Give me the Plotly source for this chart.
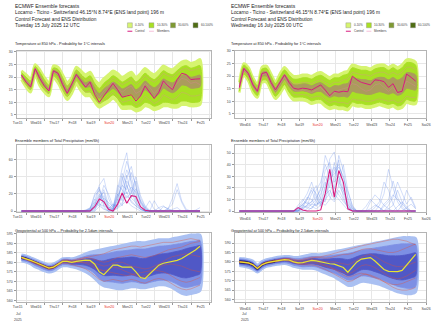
import plotly.graph_objects as go

W, H = 440, 328
FONT = "Liberation Sans, Arial, sans-serif"

# ---------------- time axis (lead time, hours, 6-hourly) ----------------
steps = list(range(0, 240, 6))  # 0 .. 234 h

days_L = ["Tue15", "Wed16", "Thu17", "Fri18", "Sat19", "Sun20", "Mon21", "Tue22", "Wed23", "Thu24", "Fri25"]
days_R = ["Wed16", "Thu17", "Fri18", "Sat19", "Sun20", "Mon21", "Tue22", "Wed23", "Thu24", "Fri25", "Sat26"]

# ---------------- Temperature 850 hPa (degC) ----------------
t_ctl_L = [20.8, 18.0, 16.0, 23.3, 19.5, 16.5, 14.5, 22.5, 21.5, 17.0,
           13.5, 17.0, 21.0, 18.5, 16.0, 18.0, 13.0, 10.0, 12.5, 15.0,
           17.5, 15.0, 12.0, 12.5, 13.0, 10.5, 12.5, 16.5, 14.0, 11.5,
           14.0, 18.5, 16.5, 15.0, 19.0, 21.5, 21.0, 19.0, 19.2, 19.3]
t_o_hi_L = [22.5, 21.0, 19.5, 25.0, 23.0, 20.0, 18.0, 24.5, 24.0, 21.0,
            18.0, 20.0, 24.0, 22.5, 21.0, 22.0, 19.0, 17.5, 19.5, 21.0,
            22.5, 21.5, 20.0, 21.0, 22.0, 20.0, 21.5, 23.5, 22.0, 21.0,
            22.5, 24.5, 23.5, 23.0, 24.5, 26.0, 26.5, 25.5, 26.0, 27.0]
t_o_lo_L = [19.0, 16.0, 14.0, 20.5, 16.5, 14.0, 12.5, 19.5, 17.5, 14.0,
            11.0, 13.5, 17.0, 14.5, 12.5, 12.5, 10.0, 8.0, 9.0, 10.0,
            11.5, 10.0, 7.5, 7.5, 7.5, 6.5, 7.0, 8.5, 8.0, 7.0,
            7.5, 8.5, 8.5, 8.0, 8.0, 9.0, 9.0, 8.5, 8.5, 9.0]
t_m_hi_L = [21.8, 20.0, 18.5, 24.2, 22.0, 19.0, 16.8, 23.6, 23.0, 19.8,
            16.5, 18.8, 22.8, 21.0, 19.5, 20.5, 17.5, 15.5, 17.5, 19.0,
            20.5, 19.5, 18.0, 19.0, 20.0, 18.0, 19.5, 21.5, 20.0, 19.0,
            20.5, 22.5, 21.5, 21.0, 22.5, 24.0, 24.5, 23.5, 24.0, 24.5]
t_m_lo_L = [19.8, 17.0, 15.0, 21.5, 17.5, 15.0, 13.5, 20.5, 18.8, 15.0,
            12.3, 14.8, 18.5, 16.0, 14.0, 14.0, 11.5, 9.5, 10.5, 11.5,
            13.0, 11.5, 9.0, 9.0, 9.0, 8.0, 8.5, 10.0, 9.5, 8.5,
            9.0, 10.0, 10.0, 9.5, 9.5, 10.5, 10.5, 10.0, 10.0, 10.5]
t_i_hi_L = [21.0, 18.9, 17.2, 23.3, 20.6, 17.7, 15.6, 22.6, 21.7, 18.3,
            15.1, 17.5, 21.3, 19.4, 17.7, 18.4, 15.6, 13.5, 15.3, 16.6,
            18.0, 16.9, 15.3, 16.1, 17.0, 15.0, 16.3, 18.4, 16.9, 15.8,
            17.1, 19.2, 18.3, 17.7, 19.0, 20.6, 20.9, 19.9, 20.3, 20.7]
t_i_lo_L = [20.5, 18.1, 16.2, 22.6, 19.1, 16.4, 14.6, 21.7, 20.4, 16.7,
            13.7, 16.3, 20.0, 17.8, 15.9, 16.2, 13.6, 11.6, 12.9, 14.1,
            15.5, 14.1, 12.3, 12.9, 13.5, 11.5, 12.6, 15.0, 13.5, 12.1,
            13.2, 15.6, 14.6, 13.8, 14.9, 16.8, 16.6, 15.6, 15.7, 16.2]
t_mem_L = [
    [21.0, 19.0, 17.2, 23.8, 21.0, 18.0, 15.8, 23.2, 22.5, 19.0, 15.5, 18.5, 22.5, 20.5, 18.5, 19.5, 16.5, 14.5, 16.0, 18.0,
     19.5, 18.5, 17.0, 18.0, 19.0, 17.0, 18.5, 20.5, 19.0, 18.0, 19.5, 21.5, 20.5, 20.0, 21.5, 23.0, 23.5, 22.5, 23.0, 23.5],
    [20.0, 17.0, 15.0, 22.0, 18.0, 15.0, 13.5, 21.0, 19.0, 15.0, 12.5, 15.0, 19.0, 16.0, 14.0, 14.5, 11.5, 9.5, 11.0, 12.5,
     14.0, 12.0, 10.0, 10.5, 11.0, 9.0, 10.0, 12.5, 11.0, 9.5, 10.5, 13.0, 12.0, 11.0, 12.0, 14.0, 13.5, 12.5, 12.5, 13.0],
    [20.5, 18.5, 16.5, 22.8, 20.0, 16.8, 14.8, 22.0, 21.0, 17.5, 14.0, 17.0, 20.5, 18.5, 16.5, 17.0, 14.5, 12.0, 14.5, 16.5,
     18.0, 15.5, 14.0, 15.5, 16.5, 13.5, 14.5, 17.5, 16.0, 13.5, 15.5, 18.0, 17.0, 15.5, 17.5, 19.5, 19.0, 17.5, 18.0, 17.0],
]

t_ctl_R = [15.5, 23.0, 21.0, 16.5, 14.0, 21.0, 21.5, 17.5, 14.5, 17.5,
           20.5, 17.5, 15.2, 14.8, 15.2, 15.0, 14.5, 15.5, 16.5, 14.5,
           12.2, 14.0, 13.6, 14.0, 13.8, 20.0, 18.5, 17.5, 17.0, 16.5,
           18.5, 18.3, 17.8, 15.5, 17.0, 13.5, 14.0, 20.8, 19.5, 18.0]
t_o_hi_R = [17.5, 25.0, 23.5, 19.5, 17.0, 23.5, 24.0, 21.0, 18.0, 21.0,
            23.5, 21.5, 20.0, 20.0, 20.5, 20.5, 20.0, 21.0, 21.5, 20.5,
            19.5, 20.5, 20.5, 21.5, 22.0, 24.5, 24.0, 23.5, 23.5, 23.0,
            24.0, 24.5, 24.5, 23.5, 24.5, 23.5, 24.5, 26.5, 26.5, 25.5]
t_o_lo_R = [13.5, 20.0, 18.0, 13.5, 11.5, 17.5, 17.5, 14.0, 11.0, 13.0,
            15.5, 12.5, 10.5, 10.5, 10.5, 10.0, 9.0, 9.5, 9.5, 8.0,
            7.0, 7.5, 7.0, 7.0, 6.5, 8.5, 8.0, 8.0, 7.5, 7.5,
            8.0, 8.5, 8.0, 7.5, 8.0, 7.0, 7.5, 9.5, 9.0, 9.0]
t_m_hi_R = [16.9, 24.3, 22.7, 18.6, 16.2, 22.7, 23.1, 20.0, 17.0, 19.9,
            22.4, 20.3, 18.8, 18.8, 19.3, 19.3, 18.8, 19.8, 20.3, 19.3,
            18.3, 19.3, 19.3, 20.3, 20.8, 23.3, 22.8, 22.3, 22.3, 21.8,
            22.8, 23.3, 23.3, 22.3, 23.3, 22.3, 23.3, 25.3, 25.3, 24.3]
t_m_lo_R = [14.1, 20.8, 18.8, 14.4, 12.3, 18.3, 18.4, 15.0, 12.0, 14.1,
            16.6, 13.7, 11.7, 11.7, 11.7, 11.2, 10.2, 10.7, 10.7, 9.2,
            8.2, 8.7, 8.2, 8.2, 7.7, 9.7, 9.2, 9.2, 8.7, 8.7,
            9.2, 9.7, 9.2, 8.7, 9.2, 8.2, 8.7, 10.7, 10.2, 10.2]
t_i_hi_R = [16.0, 23.2, 21.5, 17.3, 14.9, 21.4, 21.7, 18.4, 15.4, 18.1,
            20.6, 18.3, 16.6, 16.5, 16.9, 16.8, 16.2, 17.0, 17.4, 16.3,
            15.3, 16.2, 16.1, 16.8, 17.1, 19.5, 19.0, 18.6, 18.5, 18.1,
            19.0, 19.5, 19.4, 18.5, 19.4, 18.4, 19.3, 21.3, 21.2, 20.4]
t_i_lo_R = [15.1, 22.0, 20.2, 15.9, 13.6, 19.8, 20.0, 16.7, 13.7, 16.1,
            18.6, 16.0, 14.1, 14.0, 14.2, 13.8, 13.1, 13.8, 13.9, 12.6,
            11.6, 12.2, 11.8, 12.0, 11.7, 13.9, 13.4, 13.2, 12.8, 12.7,
            13.3, 13.8, 13.4, 12.8, 13.4, 12.4, 13.1, 15.1, 14.8, 14.5]
t_mem_R = [
    [15.8, 23.5, 21.8, 17.5, 15.0, 21.8, 22.2, 18.8, 15.8, 18.5, 21.0, 18.8, 17.0, 17.0, 17.5, 17.5, 17.0, 18.0, 18.5, 17.5,
     16.5, 17.5, 17.5, 18.5, 19.0, 21.5, 21.0, 20.5, 20.5, 20.0, 21.0, 21.5, 21.5, 20.5, 21.5, 20.5, 21.5, 23.5, 23.5, 22.5],
    [15.0, 21.8, 19.8, 15.5, 13.2, 19.2, 19.5, 16.0, 13.0, 15.5, 18.0, 15.0, 12.8, 12.5, 12.8, 12.5, 11.5, 12.0, 12.0, 10.5,
     9.5, 10.0, 9.5, 9.5, 9.0, 11.0, 10.5, 10.5, 10.0, 10.0, 10.5, 11.0, 10.5, 10.0, 10.5, 9.5, 10.0, 12.0, 11.5, 11.5],
    [15.3, 22.5, 20.5, 16.2, 14.0, 20.5, 21.0, 17.2, 14.2, 16.8, 19.5, 16.5, 14.5, 14.0, 14.5, 14.0, 13.5, 14.5, 15.5, 13.5,
     12.0, 13.5, 14.5, 15.0, 15.5, 17.0, 16.5, 15.0, 14.0, 14.5, 16.5, 17.0, 15.5, 14.0, 15.5, 13.0, 14.5, 18.0, 17.0, 16.0],
]

# ---------------- Total precipitation (mm/6h) ----------------
p_ctl_L = [0, 0, 0, 0, 0, 0, 0, 0, 0, 0, 0, 0, 0, 0, 0, 0, 5, 14, 11, 2,
           0, 8, 21, 9, 18, 17, 5, 1, 0, 0, 0, 0, 0, 0, 0, 0, 0, 0, 0, 0]
p_mem_L = [
    [0, 0, 0, 0, 0, 0, 0, 0, 0, 0, 0, 0, 0, 0, 0, 1, 8, 20, 10, 3, 5, 25, 50, 68, 30, 12, 2, 0, 0, 0, 0, 0, 0, 0, 0, 0, 0, 0, 0, 0],
    [0, 0, 0, 0, 0, 0, 0, 0, 0, 0, 0, 0, 0, 0, 0, 0, 12, 30, 38, 15, 3, 12, 35, 58, 40, 20, 8, 2, 0, 0, 0, 0, 0, 0, 0, 0, 0, 0, 0, 0],
    [0, 0, 0, 0, 0, 0, 0, 0, 0, 0, 0, 0, 0, 0, 0, 3, 18, 24, 12, 2, 0, 18, 30, 25, 45, 30, 10, 3, 12, 2, 0, 0, 0, 0, 0, 0, 0, 0, 0, 0],
    [0, 0, 0, 0, 0, 0, 0, 0, 0, 0, 0, 0, 0, 0, 0, 0, 6, 10, 25, 8, 2, 10, 15, 42, 20, 35, 15, 5, 0, 0, 0, 0, 2, 15, 32, 12, 2, 0, 0, 0],
    [0, 0, 0, 0, 0, 0, 0, 0, 0, 0, 0, 0, 0, 0, 0, 0, 0, 5, 15, 10, 5, 20, 12, 30, 15, 10, 3, 0, 0, 0, 0, 5, 3, 0, 0, 0, 0, 0, 0, 0],
    [0, 0, 0, 0, 0, 0, 0, 0, 0, 0, 0, 0, 0, 0, 0, 2, 20, 28, 5, 0, 2, 30, 25, 15, 22, 40, 18, 6, 1, 0, 0, 0, 0, 0, 0, 0, 0, 0, 1, 4],
    [0, 0, 0, 0, 0, 0, 0, 0, 0, 0, 0, 0, 0, 0, 0, 0, 3, 8, 6, 3, 8, 5, 18, 22, 10, 6, 2, 0, 0, 0, 4, 6, 2, 0, 0, 0, 0, 0, 0, 0],
    [0, 0, 0, 0, 0, 0, 0, 0, 0, 0, 0, 0, 0, 0, 0, 0, 0, 16, 22, 4, 0, 6, 40, 20, 28, 22, 12, 4, 0, 0, 0, 0, 3, 8, 25, 10, 0, 0, 0, 0],
    [0, 0, 0, 0, 0, 0, 0, 0, 0, 0, 0, 0, 0, 0, 1, 4, 10, 6, 2, 0, 0, 3, 8, 12, 6, 3, 0, 0, 0, 12, 3, 0, 0, 0, 0, 0, 0, 0, 0, 0],
    [0, 0, 0, 0, 0, 0, 0, 0, 0, 0, 0, 0, 0, 0, 0, 0, 2, 12, 18, 6, 1, 14, 6, 35, 25, 8, 4, 0, 0, 0, 0, 0, 0, 2, 4, 0, 0, 0, 0, 0],
    [0, 0, 0, 0, 0, 0, 0, 0, 0, 0, 0, 0, 0, 0, 0, 2, 6, 18, 8, 1, 3, 16, 28, 48, 35, 14, 5, 0, 0, 0, 0, 0, 0, 0, 0, 0, 0, 0, 0, 0],
    [0, 0, 0, 0, 0, 0, 0, 0, 0, 0, 0, 0, 0, 0, 0, 0, 4, 12, 30, 20, 6, 8, 22, 40, 52, 28, 10, 2, 0, 0, 0, 0, 0, 0, 0, 0, 0, 0, 0, 0],
    [0, 0, 0, 0, 0, 0, 0, 0, 0, 0, 0, 0, 0, 0, 1, 3, 14, 8, 3, 0, 0, 4, 10, 18, 12, 6, 2, 0, 0, 0, 0, 0, 0, 0, 0, 0, 0, 0, 0, 0],
    [0, 0, 0, 0, 0, 0, 0, 0, 0, 0, 0, 0, 0, 0, 0, 0, 8, 26, 14, 4, 2, 20, 44, 30, 16, 26, 12, 3, 0, 0, 0, 0, 0, 0, 0, 0, 0, 0, 0, 0],
]
p_ctl_R = [0, 0, 0, 0, 0, 0, 0, 0, 0, 0, 0, 0, 0, 3, 1, 0, 0, 0, 1, 15,
           36, 12, 35, 25, 2, 0, 0, 0, 0, 0, 0, 0, 0, 0, 0, 0, 0, 0, 0, 0]
p_mem_R = [
    [0, 0, 0, 0, 0, 0, 0, 0, 0, 0, 0, 0, 0, 2, 8, 15, 25, 12, 5, 20, 45, 51, 30, 12, 3, 0, 0, 0, 0, 0, 0, 0, 0, 0, 0, 0, 0, 0, 0, 0],
    [0, 0, 0, 0, 0, 0, 0, 0, 0, 0, 0, 0, 0, 5, 10, 6, 8, 18, 25, 40, 30, 20, 48, 35, 10, 2, 0, 0, 0, 0, 0, 5, 15, 36, 20, 8, 2, 0, 0, 0],
    [0, 0, 0, 0, 0, 0, 0, 0, 0, 0, 0, 0, 0, 0, 4, 12, 10, 4, 12, 30, 20, 42, 25, 18, 8, 2, 0, 0, 0, 8, 14, 10, 5, 2, 0, 0, 0, 0, 0, 0],
    [0, 0, 0, 0, 0, 0, 0, 0, 0, 0, 0, 0, 0, 1, 3, 5, 15, 22, 10, 8, 25, 35, 40, 28, 15, 5, 0, 0, 0, 0, 0, 0, 0, 5, 12, 25, 15, 6, 12, 3],
    [0, 0, 0, 0, 0, 0, 0, 0, 0, 0, 0, 0, 0, 0, 0, 2, 6, 10, 20, 48, 38, 15, 10, 5, 1, 0, 0, 0, 0, 0, 3, 8, 25, 18, 6, 0, 0, 0, 0, 0],
    [0, 0, 0, 0, 0, 0, 0, 0, 0, 0, 0, 0, 0, 0, 6, 8, 4, 2, 5, 10, 15, 28, 44, 20, 6, 0, 0, 0, 4, 10, 6, 3, 0, 0, 0, 0, 5, 18, 10, 2],
    [0, 0, 0, 0, 0, 0, 0, 0, 0, 0, 0, 0, 0, 3, 5, 3, 2, 8, 15, 25, 12, 8, 18, 10, 3, 0, 0, 0, 0, 0, 0, 0, 6, 10, 26, 12, 4, 0, 0, 0],
    [0, 0, 0, 0, 0, 0, 0, 0, 0, 0, 0, 0, 0, 0, 0, 0, 3, 6, 8, 5, 10, 20, 14, 8, 4, 0, 0, 0, 0, 0, 0, 0, 0, 0, 0, 4, 8, 4, 0, 0],
    [0, 0, 0, 0, 0, 0, 0, 0, 0, 0, 0, 0, 0, 2, 6, 10, 18, 8, 4, 12, 30, 38, 22, 15, 5, 0, 0, 0, 0, 0, 0, 0, 0, 0, 0, 0, 0, 0, 0, 0],
    [0, 0, 0, 0, 0, 0, 0, 0, 0, 0, 0, 0, 0, 0, 2, 5, 8, 12, 18, 35, 42, 25, 30, 18, 6, 1, 0, 0, 0, 0, 0, 0, 4, 8, 14, 10, 6, 2, 0, 0],
    [0, 0, 0, 0, 0, 0, 0, 0, 0, 0, 0, 0, 0, 1, 2, 4, 6, 5, 8, 22, 28, 32, 38, 30, 12, 3, 0, 0, 0, 2, 5, 3, 0, 0, 0, 0, 0, 3, 6, 2],
    [0, 0, 0, 0, 0, 0, 0, 0, 0, 0, 0, 0, 0, 0, 3, 10, 20, 15, 6, 14, 18, 10, 22, 40, 18, 4, 0, 0, 0, 0, 0, 0, 0, 2, 5, 18, 8, 2, 0, 0],
]

# ---------------- Geopotential 500 hPa (dam) ----------------
z_ctl_L = [582.6, 582.0, 581.0, 580.0, 579.0, 578.0, 577.0, 577.5, 579.0, 580.5,
           580.5, 580.0, 580.5, 581.0, 581.2, 581.0, 579.0, 575.0, 573.5, 576.0,
           578.5, 578.5, 577.5, 577.5, 577.5, 575.0, 572.0, 571.5, 574.0, 576.5,
           578.5, 579.5, 580.0, 580.5, 581.0, 582.0, 583.5, 585.0, 586.5, 588.5]
z_o_hi_L = [584.0, 583.5, 582.5, 581.5, 580.5, 579.5, 578.8, 579.3, 580.5, 582.0,
            582.2, 582.0, 582.5, 583.5, 584.5, 585.5, 586.0, 586.5, 587.0, 587.5,
            588.0, 588.5, 589.0, 589.5, 590.0, 590.5, 590.5, 590.5, 591.0, 591.5,
            592.0, 592.0, 592.0, 592.5, 593.0, 593.5, 594.0, 594.5, 594.5, 594.5]
z_o_lo_L = [580.5, 580.0, 579.0, 577.5, 576.5, 575.5, 574.8, 575.2, 576.8, 578.0,
            578.0, 577.5, 577.0, 576.0, 575.0, 573.5, 571.5, 569.0, 567.5, 567.0,
            566.5, 566.0, 566.0, 566.5, 567.0, 567.0, 566.5, 566.5, 567.0, 567.5,
            568.0, 568.0, 567.5, 566.5, 565.0, 563.5, 563.0, 563.5, 564.0, 565.0]
z_m_hi_L = [583.6, 583.1, 582.1, 581.1, 580.1, 579.1, 578.3, 578.8, 580.1, 581.6,
            581.7, 581.4, 581.8, 582.5, 583.2, 583.8, 584.0, 584.0, 584.3, 584.8,
            585.3, 585.8, 586.0, 586.3, 586.6, 587.0, 587.0, 587.0, 587.5, 588.0,
            588.5, 588.6, 588.8, 589.2, 589.6, 590.0, 590.5, 591.0, 591.2, 591.5]
z_m_lo_L = [581.0, 580.5, 579.6, 578.3, 577.3, 576.2, 575.5, 576.0, 577.5, 578.7,
            578.7, 578.3, 577.9, 577.4, 576.8, 575.8, 574.0, 571.5, 570.0, 569.8,
            569.6, 569.2, 569.0, 569.4, 569.8, 569.6, 569.0, 568.8, 569.4, 570.0,
            570.5, 570.6, 570.4, 569.6, 568.5, 567.2, 566.8, 567.2, 567.8, 568.6]
z_i_hi_L = [583.0, 582.5, 581.5, 580.5, 579.5, 578.5, 577.6, 578.1, 579.5, 581.0,
            581.1, 580.8, 581.0, 581.4, 581.8, 582.0, 581.6, 580.8, 580.8, 581.5,
            582.0, 582.3, 582.3, 582.5, 582.8, 582.6, 582.0, 582.0, 582.8, 583.5,
            584.2, 584.5, 584.8, 585.3, 585.8, 586.4, 587.2, 587.8, 588.3, 588.8]
z_i_lo_L = [581.8, 581.2, 580.3, 579.2, 578.3, 577.2, 576.4, 576.9, 578.4, 579.6,
            579.6, 579.0, 579.0, 578.8, 578.4, 577.6, 576.2, 574.2, 573.0, 573.0,
            573.2, 573.0, 572.8, 573.0, 573.3, 572.8, 572.0, 572.0, 572.8, 573.6,
            574.2, 574.4, 574.2, 573.6, 572.8, 572.0, 571.8, 572.3, 573.0, 574.0]
z_c_hi_L = [582.9, 582.3, 581.3, 580.3, 579.3, 578.3, 577.4, 577.9, 579.3]
z_c_lo_L = [582.1, 581.6, 580.7, 579.6, 578.7, 577.6, 576.7, 577.1, 578.7]
z_mem_L = [
    [582.5, 581.8, 580.8, 579.8, 578.8, 577.8, 577.0, 577.6, 579.2, 580.7, 580.8, 580.4, 581.0, 581.8, 582.5, 583.0, 583.5, 584.0, 584.5, 585.5, 586.5, 587.0, 587.5, 588.0, 588.5, 588.5, 588.0, 588.5, 589.0, 589.5, 590.0, 590.5, 590.5, 590.5, 591.0, 591.5, 592.0, 592.5, 592.0, 591.5],
    [582.4, 581.6, 580.5, 579.3, 578.2, 577.0, 576.2, 576.8, 578.4, 579.5, 579.4, 578.8, 578.2, 577.5, 576.5, 575.0, 573.0, 571.0, 570.0, 570.5, 571.0, 570.5, 570.0, 570.5, 571.0, 570.5, 569.5, 569.0, 570.0, 571.0, 571.5, 571.0, 570.0, 568.5, 567.0, 566.0, 565.5, 566.0, 567.0, 568.0],
    [582.7, 582.1, 581.1, 580.2, 579.1, 578.1, 577.2, 577.8, 579.1, 580.6, 580.9, 580.6, 580.9, 581.2, 581.0, 580.2, 579.5, 578.5, 578.0, 578.5, 579.5, 580.0, 580.0, 579.0, 578.0, 577.5, 577.0, 576.5, 577.0, 578.0, 579.0, 580.5, 582.0, 583.0, 583.5, 584.0, 584.5, 584.0, 583.5, 583.0],
    [582.3, 581.5, 580.4, 579.4, 578.4, 577.4, 576.6, 577.0, 578.6, 580.0, 580.2, 579.6, 579.8, 580.0, 579.5, 578.5, 577.0, 576.0, 575.5, 575.0, 574.5, 574.0, 573.5, 573.0, 573.5, 574.0, 574.5, 575.0, 575.5, 576.0, 575.5, 575.0, 574.0, 572.5, 571.0, 570.0, 569.5, 570.0, 571.0, 572.0],
    [582.8, 582.2, 581.2, 580.4, 579.4, 578.4, 577.5, 578.0, 579.6, 581.2, 581.3, 581.0, 581.6, 582.2, 582.6, 582.2, 581.5, 580.5, 580.0, 580.5, 581.5, 582.5, 583.0, 583.5, 584.0, 583.5, 583.0, 582.5, 583.0, 583.5, 584.5, 585.5, 586.5, 587.0, 587.5, 588.0, 589.0, 590.0, 590.5, 591.0],
    [582.5, 581.9, 580.9, 579.9, 578.9, 577.9, 577.0, 577.5, 579.0, 580.3, 580.3, 579.8, 580.0, 580.2, 580.0, 579.5, 578.0, 576.5, 575.5, 576.5, 577.5, 577.0, 576.0, 575.0, 574.0, 573.0, 572.5, 573.0, 574.5, 576.0, 577.5, 578.5, 579.0, 579.0, 578.5, 578.0, 577.0, 576.0, 575.5, 575.0],
]

z_ctl_R = [580.0, 579.8, 579.5, 578.5, 576.5, 578.5, 579.5, 580.0, 580.5, 580.8,
           581.2, 581.0, 580.0, 579.5, 579.6, 580.2, 580.8, 580.5, 580.0, 579.2,
           579.0, 578.8, 578.0, 577.0, 574.5, 577.0, 580.0, 581.5, 582.0, 582.3,
           580.5, 578.0, 576.0, 575.0, 574.8, 574.8, 575.5, 578.5, 581.5, 584.0]
z_o_hi_R = [582.0, 581.8, 581.3, 580.5, 578.5, 580.3, 581.3, 581.8, 582.3, 582.7,
            583.0, 583.0, 582.5, 582.5, 583.0, 583.5, 584.0, 584.0, 584.0, 584.5,
            585.0, 585.5, 586.0, 586.5, 587.0, 587.5, 588.0, 588.5, 589.0, 589.5,
            590.0, 590.5, 591.0, 591.5, 592.0, 592.5, 593.0, 593.0, 593.0, 592.5]
z_o_lo_R = [578.0, 577.5, 577.0, 576.0, 574.5, 576.2, 577.5, 578.0, 578.5, 578.8,
            579.0, 578.5, 577.5, 577.0, 576.5, 576.5, 576.5, 576.0, 575.0, 574.0,
            573.0, 572.0, 570.5, 569.0, 567.5, 567.5, 568.5, 569.5, 569.5, 569.0,
            568.5, 568.0, 567.0, 566.0, 565.0, 564.0, 563.5, 563.0, 563.0, 564.0]
z_m_hi_R = [581.6, 581.4, 580.9, 580.0, 578.0, 579.8, 580.8, 581.3, 581.8, 582.1,
            582.4, 582.3, 581.8, 581.7, 582.0, 582.4, 582.8, 582.8, 582.7, 583.0,
            583.3, 583.6, 583.9, 584.2, 584.5, 585.0, 585.6, 586.2, 586.6, 587.0,
            587.4, 587.8, 588.2, 588.6, 589.0, 589.3, 589.6, 589.6, 589.6, 589.3]
z_m_lo_R = [578.4, 578.0, 577.5, 576.5, 575.0, 576.7, 578.0, 578.5, 579.0, 579.3,
            579.5, 579.1, 578.2, 577.8, 577.4, 577.5, 577.6, 577.3, 576.5, 575.6,
            574.8, 574.0, 572.8, 571.6, 570.4, 570.5, 571.5, 572.5, 572.5, 572.0,
            571.5, 571.0, 570.0, 569.0, 568.0, 567.0, 566.5, 566.0, 566.0, 567.0]
z_i_hi_R = [581.0, 580.8, 580.3, 579.4, 577.4, 579.2, 580.2, 580.7, 581.2, 581.6,
            581.9, 581.7, 581.0, 580.7, 580.9, 581.3, 581.8, 581.7, 581.4, 581.5,
            581.6, 581.8, 581.8, 581.6, 581.2, 581.8, 582.8, 583.6, 584.0, 584.3,
            584.3, 584.0, 583.6, 583.3, 583.2, 583.2, 583.4, 583.8, 584.3, 584.8]
z_i_lo_R = [579.0, 578.7, 578.3, 577.3, 575.6, 577.5, 578.7, 579.2, 579.7, 580.0,
            580.3, 580.0, 579.2, 578.8, 578.6, 578.8, 579.0, 578.6, 578.0, 577.2,
            576.6, 576.0, 575.0, 574.0, 572.8, 573.2, 574.6, 575.8, 576.0, 575.6,
            574.8, 574.0, 573.0, 572.0, 571.2, 570.6, 570.4, 570.8, 571.5, 572.5]
z_c_hi_R = [580.6, 580.4, 580.0, 579.0, 577.0, 578.9, 579.9, 580.4, 580.9]
z_c_lo_R = [579.4, 579.2, 578.9, 577.9, 576.0, 578.0, 579.0, 579.5, 580.0]
z_mem_R = [
    [580.2, 580.0, 579.6, 578.6, 576.8, 578.8, 579.8, 580.3, 580.9, 581.2, 581.6, 581.5, 580.8, 580.5, 580.8, 581.5, 582.2, 582.5, 582.8, 583.2, 583.8, 584.5, 585.2, 586.0, 586.8, 587.5, 588.0, 588.5, 589.0, 589.5, 590.0, 590.5, 591.0, 591.5, 592.0, 592.0, 591.5, 591.0, 590.0, 589.0],
    [579.8, 579.5, 579.2, 578.2, 576.2, 578.2, 579.2, 579.7, 580.2, 580.5, 580.8, 580.4, 579.4, 578.8, 578.5, 578.5, 578.4, 578.0, 577.2, 576.0, 574.8, 573.5, 572.0, 570.5, 569.5, 570.0, 571.5, 573.0, 573.5, 573.0, 572.0, 571.0, 569.5, 568.0, 566.5, 565.5, 565.0, 565.0, 565.5, 566.5],
    [580.1, 579.9, 579.5, 578.5, 576.6, 578.6, 579.6, 580.1, 580.6, 580.9, 581.3, 581.2, 580.2, 579.8, 580.0, 580.6, 581.2, 581.0, 580.5, 580.2, 580.0, 580.0, 579.5, 579.0, 578.5, 579.5, 581.0, 582.5, 583.5, 584.0, 583.0, 581.5, 580.0, 579.0, 578.0, 577.5, 577.5, 578.0, 579.0, 580.0],
    [579.9, 579.7, 579.4, 578.4, 576.4, 578.4, 579.4, 579.9, 580.4, 580.7, 581.0, 580.8, 579.8, 579.2, 579.0, 579.2, 579.5, 579.2, 578.5, 577.8, 577.0, 576.5, 575.5, 574.5, 573.5, 574.5, 576.5, 578.0, 578.5, 578.0, 577.0, 575.5, 574.0, 572.5, 571.5, 571.0, 571.5, 572.5, 574.0, 575.5],
    [580.3, 580.1, 579.7, 578.8, 577.0, 579.0, 580.0, 580.5, 581.0, 581.4, 581.8, 581.8, 581.2, 581.0, 581.4, 582.0, 582.5, 582.5, 582.2, 582.0, 582.2, 582.8, 583.5, 584.0, 584.0, 584.5, 585.5, 586.5, 587.0, 587.0, 586.5, 586.0, 585.5, 585.0, 585.0, 585.5, 586.5, 587.5, 588.5, 589.5],
    [580.0, 579.8, 579.4, 578.4, 576.4, 578.5, 579.5, 580.0, 580.5, 580.9, 581.2, 580.9, 580.0, 579.5, 579.5, 580.0, 580.5, 580.0, 579.2, 578.5, 577.5, 576.0, 574.5, 573.0, 572.0, 572.5, 573.5, 574.0, 573.5, 572.5, 571.5, 570.5, 569.5, 568.5, 568.0, 568.0, 568.5, 569.5, 570.5, 571.5],
]

# ---------------- styling ----------------
T_COL = ["#d6f470", "#a8e024", "#ab9c5c", "#4f6d13"]
Z_COL = ["#aac0f2", "#7d8fe4", "#5058c6", "#1c1f5c"]
CTL = "#d81b7f"
MEM_PINK = "#f6bfd9"

fig = go.Figure()


def band(xv, lo, hi, color, ax, lw=0.0):
    xs = list(xv[:len(hi)])
    fig.add_trace(go.Scatter(
        x=xs + xs[::-1], y=list(hi) + list(lo)[::-1], fill="toself", fillcolor=color,
        mode="lines", line=dict(width=lw, color=color, shape="spline", smoothing=0.8),
        hoverinfo="skip", showlegend=False, xaxis="x" + ax, yaxis="y" + ax))


def line(xv, yv, color, width, ax, dash="solid"):
    fig.add_trace(go.Scatter(
        x=list(xv[:len(yv)]), y=yv, mode="lines", line=dict(color=color, width=width, dash=dash),
        hoverinfo="skip", showlegend=False, xaxis="x" + ax, yaxis="y" + ax))


# temperature panels
for ax, ctl, bands, mems in [
        ("", t_ctl_L, [(t_o_lo_L, t_o_hi_L), (t_m_lo_L, t_m_hi_L), (t_i_lo_L, t_i_hi_L)], t_mem_L),
        ("2", t_ctl_R, [(t_o_lo_R, t_o_hi_R), (t_m_lo_R, t_m_hi_R), (t_i_lo_R, t_i_hi_R)], t_mem_R)]:
    for k, (lo, hi) in enumerate(bands):
        band(steps, lo, hi, T_COL[k], ax, lw=2.5 if k == 0 else 1.0)
    for m in mems:
        line(steps, m, "rgba(235,120,175,0.6)", 0.5, ax)
    line(steps, ctl, CTL, 1.0, ax)

# precipitation panels
for ax, ctl, mems in [("3", p_ctl_L, p_mem_L), ("4", p_ctl_R, p_mem_R)]:
    for m in mems:
        line(steps, m, "rgba(80,125,230,0.5)", 0.5, ax)
    line(steps, ctl, CTL, 1.1, ax)

# geopotential panels
for ax, ctl, bands, core, mems in [
        ("5", z_ctl_L, [(z_o_lo_L, z_o_hi_L), (z_m_lo_L, z_m_hi_L), (z_i_lo_L, z_i_hi_L)], (z_c_lo_L, z_c_hi_L), z_mem_L),
        ("6", z_ctl_R, [(z_o_lo_R, z_o_hi_R), (z_m_lo_R, z_m_hi_R), (z_i_lo_R, z_i_hi_R)], (z_c_lo_R, z_c_hi_R), z_mem_R)]:
    for k, (lo, hi) in enumerate(bands):
        band(steps, lo, hi, Z_COL[k], ax, lw=2.5 if k == 0 else 0.8)
    band(steps, core[0], core[1], Z_COL[3], ax, lw=0.8)
    for m in mems:
        line(steps, m, "rgba(225,80,55,0.75)", 0.5, ax)
    line(steps, ctl, "#e7e331", 1.2, ax)


# ---------------- axes ----------------
def xd(l, r):
    return [l / W, r / W]


def yd(top, bot):
    return [1 - bot / H, 1 - top / H]


XR = [-5.5, 248]
lab_L = [-5 + 24 * k for k in range(len(days_L))]
grid_L = [6.4 + 24 * k for k in range(len(days_L))]
lab_R = [7.8 + 24 * k for k in range(len(days_R))]


def ttext(days):
    return ["<span style='color:#e8302a'>%s</span>" % d if d.startswith("Sun") else d for d in days]


TICKF = dict(family=FONT, size=3.5, color="#444")
base_x = dict(range=XR, showline=True, mirror=True, linecolor="#b4b4b4", linewidth=0.7, zeroline=False,
              tickfont=TICKF, tickmode="array", ticklabelstandoff=1)
base_y = dict(showline=True, mirror=True, linecolor="#b4b4b4", linewidth=0.7, zeroline=False, showgrid=True,
              gridcolor="#e7e7e7", gridwidth=0.6, tickfont=TICKF, ticks="outside", ticklen=2, tickcolor="#999",
              tickmode="array", ticklabelstandoff=1)

xL = dict(base_x, domain=xd(12.5, 210), tickvals=lab_L, ticktext=ttext(days_L), showgrid=False, ticks="",
          minor=dict(tickmode="array", tickvals=grid_L, showgrid=True, gridcolor="#e7e7e7", gridwidth=0.6,
                     ticks="outside", ticklen=2, tickcolor="#999"))
xR = dict(base_x, domain=xd(235, 430), tickvals=lab_R, ticktext=ttext(days_R), showgrid=True,
          gridcolor="#e7e7e7", gridwidth=0.6, ticks="outside", ticklen=2, tickcolor="#999")

TEMP_Y = (49, 117)
PREC_Y = (144, 212)
GEO_Y = (233, 303)

fig.update_layout(
    xaxis=dict(xL, anchor="y"), yaxis=dict(base_y, domain=yd(*TEMP_Y), range=[3.82, 30.5], anchor="x",
                                          tickvals=[5, 10, 15, 20, 25, 30]),
    xaxis2=dict(xR, anchor="y2"), yaxis2=dict(base_y, domain=yd(*TEMP_Y), range=[3.43, 30.1], anchor="x2",
                                             tickvals=[5, 10, 15, 20, 25, 30]),
    xaxis3=dict(xL, anchor="y3"), yaxis3=dict(base_y, domain=yd(*PREC_Y), range=[-1.2, 77.4], anchor="x3",
                                             tickvals=[0, 20, 40, 60]),
    xaxis4=dict(xR, anchor="y4"), yaxis4=dict(base_y, domain=yd(*PREC_Y), range=[-0.85, 57.3], anchor="x4",
                                             tickvals=[0, 10, 20, 30, 40, 50]),
    xaxis5=dict(xL, anchor="y5"), yaxis5=dict(base_y, domain=yd(*GEO_Y), range=[559.0, 595.5], anchor="x5",
                                             tickvals=[560, 565, 570, 575, 580, 585, 590, 595]),
    xaxis6=dict(xR, anchor="y6"), yaxis6=dict(base_y, domain=yd(*GEO_Y), range=[558.6, 595.4], anchor="x6",
                                             tickvals=[560, 565, 570, 575, 580, 585, 590]),
)

# ---------------- texts ----------------
ann = []


def txt(x, y, s, size, color="#222", anchor="left"):
    ann.append(dict(x=x / W, y=1 - y / H, xref="paper", yref="paper", text=s, showarrow=False,
                    xanchor=anchor, yanchor="middle", font=dict(family=FONT, size=size, color=color)))


for x0, run in [(8, "Tuesday 15 July 2025 12 UTC"), (229, "Wednesday 16 July 2025 00 UTC")]:
    txt(x0, 4.2, "ECMWF Ensemble forecasts", 5.0)
    txt(x0, 10.6, "Locarno - Ticino - Switzerland 46.15°N 8.74°E (ENS land point) 196 m", 4.8)
    txt(x0, 17.2, "Control Forecast and ENS Distribution", 4.8)
    txt(x0, 24.0, run, 4.8)
    txt(x0, 42.0, "Temperature at 850 hPa - Probability for 1°C intervals", 3.8)
    txt(x0, 140.3, "Ensemble members of Total Precipitation (mm/6h)", 3.8)
    txt(x0, 231.5, "Geopotential at 500 hPa -- Probability for 2.5dam intervals", 3.8)

for xc in [13.5, 245]:
    txt(xc, 315, "Jul", 3.5, "#444", "center")
    txt(xc, 321, "2025", 3.5, "#444", "center")

# legend (probability classes + lines)
shapes = []
leg_labels = ["0-10%", "10-30%", "30-60%", "60-100%"]
LEG_COL = ["#d6f470", "#a8e024", "#7f9a32", "#4f6d13"]
for bx in [[125, 147, 169, 192], [348, 369, 392, 414]]:
    for k, x0 in enumerate(bx):
        shapes.append(dict(type="rect", xref="paper", yref="paper", x0=x0 / W, x1=(x0 + 5) / W,
                           y0=1 - 26 / H, y1=1 - 21 / H, fillcolor=LEG_COL[k], line=dict(color="#8a8a8a", width=0.4)))
        txt(x0 + 6, 23.6, leg_labels[k], 3.0, "#444")
    shapes.append(dict(type="line", xref="paper", yref="paper", x0=bx[0] / W, x1=(bx[0] + 5) / W,
                       y0=1 - 29.5 / H, y1=1 - 29.5 / H, line=dict(color=CTL, width=1)))
    txt(bx[0] + 6, 29.5, "Control", 3.0, "#444")
    shapes.append(dict(type="line", xref="paper", yref="paper", x0=bx[1] / W, x1=(bx[1] + 5) / W,
                       y0=1 - 29.5 / H, y1=1 - 29.5 / H, line=dict(color=MEM_PINK, width=1)))
    txt(bx[1] + 6, 29.5, "Members", 3.0, "#444")

fig.update_layout(
    width=W, height=H, autosize=False, margin=dict(l=0, r=0, t=0, b=0),
    paper_bgcolor="white", plot_bgcolor="white", showlegend=False,
    font=dict(family=FONT, size=4, color="#333"),
    annotations=ann, shapes=shapes,
)

fig.write_html("out.html")
